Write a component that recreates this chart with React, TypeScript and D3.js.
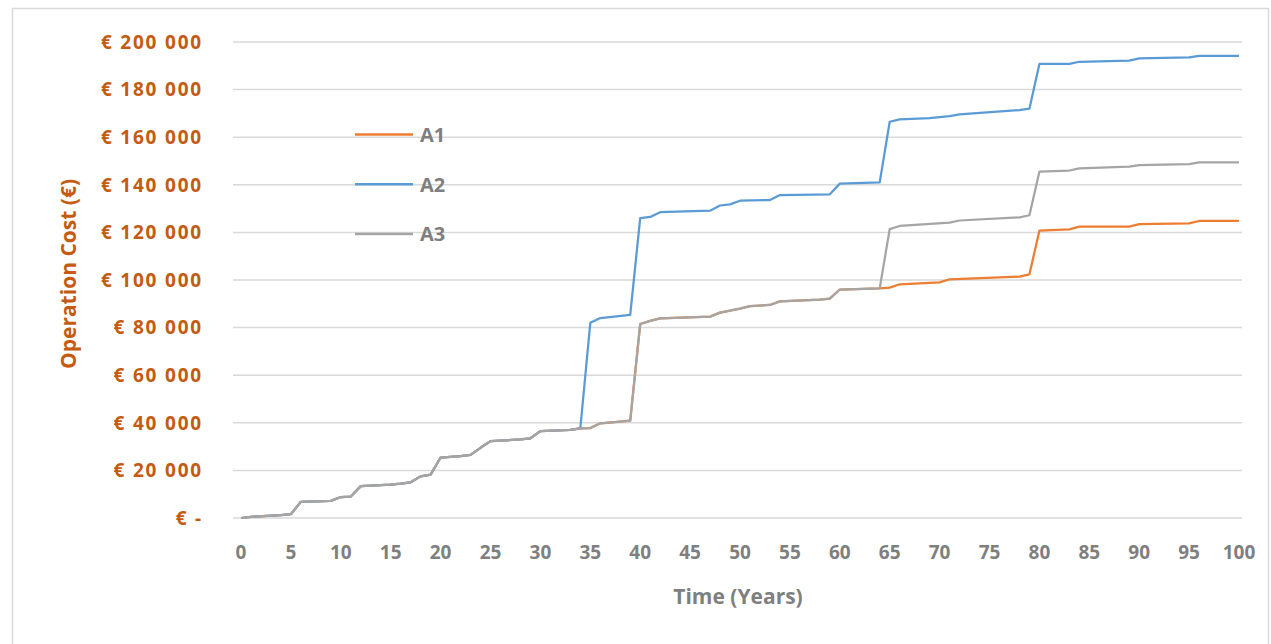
import * as d3 from 'd3';

// years 0-34: all three alternatives share the same path
const sharedYears = [0, 1, 4, 5, 6, 9, 10, 11, 12, 15, 16, 17, 18, 19, 20, 22, 23, 24, 25, 28, 29, 30, 33, 34];
const sharedCost = [0, 500, 1200, 1600, 6800, 7200, 8800, 9000, 13400, 14000, 14400, 15000, 17500, 18200, 25400, 26000, 26500, 29500, 32300, 33000, 33500, 36500, 37000, 37700];

// A2 after year 34
const a2Years = [35, 36, 39, 40, 41, 42, 47, 48, 49, 50, 53, 54, 59, 60, 64, 65, 66, 69, 71, 72, 78, 79, 80, 83, 84, 89, 90, 95, 96, 100];
const a2Cost = [82000, 84000, 85300, 126000, 126500, 128500, 129100, 131300, 131800, 133300, 133600, 135700, 136000, 140500, 141000, 166500, 167500, 168000, 168900, 169600, 171400, 172000, 190800, 190800, 191700, 192200, 193100, 193500, 194200, 194200];

// A1 and A3 together, years 35-64
const a13Years = [35, 36, 38, 39, 40, 41, 42, 47, 48, 49, 50, 51, 53, 54, 58, 59, 60, 64];
const a13Cost = [37800, 39800, 40500, 40900, 81500, 82800, 83900, 84600, 86300, 87100, 88000, 89000, 89500, 91000, 91800, 92200, 96000, 96500];

// tails after year 64
const a1Years = [65, 66, 70, 71, 78, 79, 80, 83, 84, 89, 90, 95, 96, 100];
const a1Cost = [96800, 98200, 99000, 100300, 101400, 102400, 120700, 121300, 122400, 122400, 123500, 123800, 124800, 124800];
const a3Years = [65, 66, 71, 72, 78, 79, 80, 83, 84, 89, 90, 95, 96, 100];
const a3Cost = [121400, 122700, 124100, 125000, 126300, 127200, 145500, 146000, 146900, 147600, 148300, 148700, 149400, 149400];

const seriesNames = ['A1', 'A2', 'A3'];
const seriesColors = ['#ed7d31', '#5b9bd5', '#a5a5a5'];
const yTicks = d3.range(0, 200001, 20000);
const xTicks = d3.range(0, 101, 5);

const zip = (ys: number[], vs: number[]) => ys.map((y, i) => [y, vs[i]] as [number, number]);

const App = () => {
    const width = 1271, height = 644;
    const x = d3.scaleLinear().domain([0, 100]).range([241, 1239]);
    const y = d3.scaleLinear().domain([0, 200000]).range([518, 42]);

    const shared = zip(sharedYears, sharedCost);
    const a13 = zip(a13Years, a13Cost);
    const data = [
        [...shared, ...a13, ...zip(a1Years, a1Cost)],
        [...shared, ...zip(a2Years, a2Cost)],
        [...shared, ...a13, ...zip(a3Years, a3Cost)],
    ];

    const line = d3.line<[number, number]>()
        .x(d => x(d[0]))
        .y(d => y(d[1]));

    const fmt = (v: number) => v === 0 ? '€ -' : '€ ' + d3.format(',')(v).replace(/,/g, ' ');
    const font = '"Open Sans", sans-serif';
    const orange = '#c55a11';
    const gray = '#7f7f7f';

    return (
        <svg width={width} height={height} style={{ position: 'absolute', left: 0, top: 0, background: '#fff' }}>
            <rect x={12.5} y={8.5} width={1256} height={650} fill="#fff" stroke="#d9d9d9" strokeWidth={1.5} />
            {/* gridlines */}
            {yTicks.map(t => (
                <line key={'g' + t} x1={233} x2={1242} y1={y(t)} y2={y(t)} stroke="#d9d9d9" strokeWidth={1.5} />
            ))}
            {/* y tick labels */}
            {yTicks.map(t => (
                <text key={'yl' + t} x={203} y={y(t)} dy="0.36em" textAnchor="end" fill={orange}
                    fontFamily={font} fontWeight={700} fontSize={19} letterSpacing={1.8}>{fmt(t)}</text>
            ))}
            {/* x tick labels */}
            {xTicks.map(t => (
                <text key={'xl' + t} x={x(t)} y={552} dy="0.36em" textAnchor="middle" fill={gray}
                    fontFamily={font} fontWeight={700} fontSize={19}>{t}</text>
            ))}
            <text x={738} y={596} dy="0.36em" textAnchor="middle" fill={gray}
                fontFamily={font} fontWeight={700} fontSize={21}>Time (Years)</text>
            <text transform="translate(68,274) rotate(-90)" dy="0.36em" textAnchor="middle" fill={orange}
                fontFamily={font} fontWeight={700} fontSize={21}>Operation Cost (€)</text>
            {/* series */}
            {data.map((d, i) => (
                <path key={seriesNames[i]} d={line(d) || ''} fill="none" stroke={seriesColors[i]}
                    strokeWidth={2.25} strokeLinejoin="round" />
            ))}
            {/* legend */}
            {seriesNames.map((n, i) => (
                <g key={'lg' + n} transform={`translate(355,${134.5 + i * 49.8})`}>
                    <line x1={0} x2={58} y1={0} y2={0} stroke={seriesColors[i]} strokeWidth={2.5} />
                    <text x={65} y={0} dy="0.36em" fill={gray} fontFamily={font} fontWeight={700} fontSize={20}>{n}</text>
                </g>
            ))}
        </svg>
    );
};

export default App;
